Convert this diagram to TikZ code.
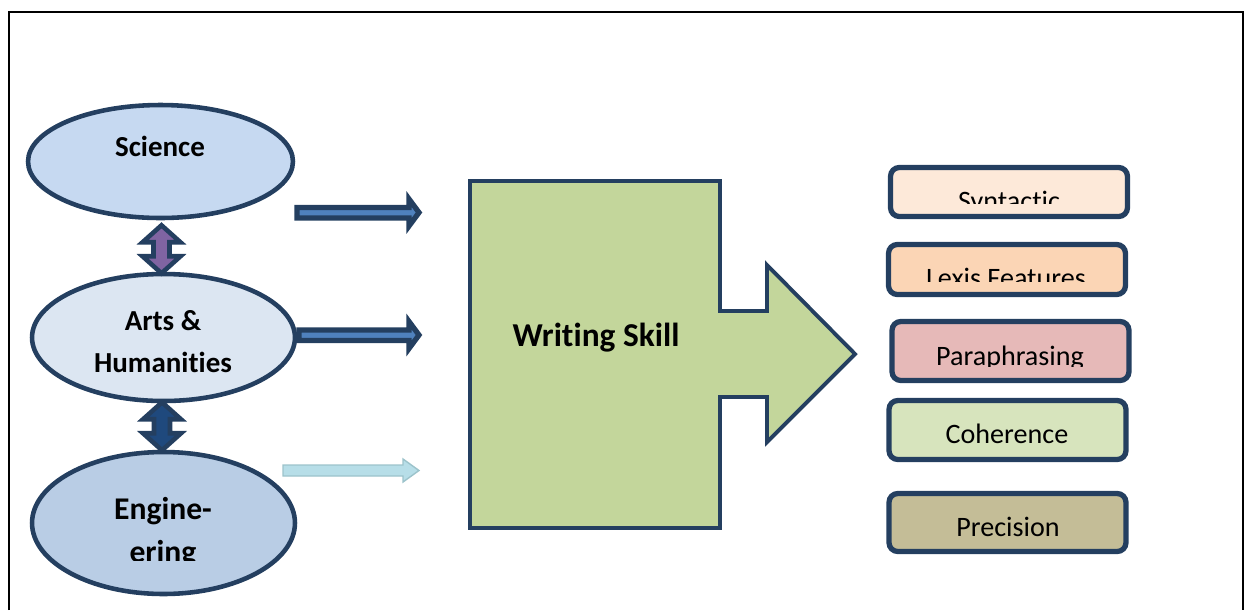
\documentclass[tikz,border=0pt]{standalone}
\usepackage{fontspec}
\setmainfont{Carlito}[Ligatures=NoCommon]
\usetikzlibrary{shapes.geometric}

\definecolor{darkline}{HTML}{243F60}
\definecolor{sciblue}{HTML}{C6D9F1}
\definecolor{artsblue}{HTML}{DCE6F2}
\definecolor{engblue}{HTML}{B9CDE5}
\definecolor{arrowblue}{HTML}{4F81BD}
\definecolor{paleteal}{HTML}{B7DEE8}
\definecolor{palerim}{HTML}{9CC3CB}
\definecolor{purplearr}{HTML}{8064A2}
\definecolor{navyarr}{HTML}{1F497D}
\definecolor{skillgreen}{HTML}{C3D69B}
\definecolor{synfill}{HTML}{FDE9D9}
\definecolor{lexfill}{HTML}{FBD5B5}
\definecolor{parfill}{HTML}{E6B9B8}
\definecolor{cohfill}{HTML}{D7E4BD}
\definecolor{prefill}{HTML}{C4BD97}

\tikzset{
	field/.style={ellipse, draw=darkline, line width=2.6pt, inner sep=0pt},
	fieldtext/.style={font=\bfseries\fontsize{16.5}{20}\selectfont, align=center, inner sep=0pt},
	feature/.style={draw=darkline, line width=3pt, rounded corners=5pt, inner sep=0pt, minimum width=4.74cm},
	featuretext/.style={font=\fontsize{16}{19}\selectfont, anchor=base, inner sep=0pt},
	bararrow/.style={draw=darkline, fill=arrowblue, line width=3pt, line join=miter},
	dblarrow/.style={draw=darkline, line width=2.6pt, line join=miter},
}

\begin{document}
\begin{tikzpicture}[x=0.02cm, y=-0.02cm]
	%%%%% START %%%%%
	\useasboundingbox (0,0) rectangle (1245,610);
	
	% frame
	\draw[line width=1pt] (9,610) -- (9,12) -- (1243,12) -- (1243,610);
	
	% fields
	\node[field, fill=sciblue, minimum width=5.3cm, minimum height=2.26cm] (sci) at (160.5,161.5) {};
	\node[fieldtext] (scitxt) at (160,146) {Science};
	
	\node[field, fill=artsblue, minimum width=5.26cm, minimum height=2.54cm] (arts) at (163.5,337.5) {};
	\node[fieldtext] (artstxt) at (163,342) {Arts \&\\[4pt]Humanities};
	
	\node[field, fill=engblue, minimum width=5.26cm, minimum height=2.84cm] (eng) at (163.5,523) {};
	\begin{scope}
		\clip (40,470) rectangle (290,560);
		\node[fieldtext, font=\bfseries\fontsize{18}{22}\selectfont] (engtxt) at (163,533) {Engine-\\[2.5pt]ering};
	\end{scope}
	
	% links between fields
	\draw[dblarrow, fill=purplearr, shift={(sci.south)}]
		(1,5) -- (20,22) -- (9,22) -- (9,36) -- (20,36) -- (1,53)
		-- (-18,36) -- (-7,36) -- (-7,22) -- (-18,22) -- cycle;
	\draw[dblarrow, fill=navyarr, shift={(arts.south)}]
		(-1.5,-1) -- (17.5,16) -- (6.5,16) -- (6.5,30) -- (17.5,30) -- (-1.5,47)
		-- (-20.5,30) -- (-9.5,30) -- (-9.5,16) -- (-20.5,16) -- cycle;
	
	% arrows into the skill
	\draw[bararrow] (297,207.5) -- (409,207.5) -- (409,199) -- (419,212.5) -- (409,226) -- (409,218) -- (297,218) -- cycle;
	\draw[bararrow] (299,330) -- (409,330) -- (409,321.5) -- (419,335) -- (409,348.5) -- (409,340.5) -- (299,340.5) -- cycle;
	\draw[draw=palerim, fill=paleteal, line width=0.8pt] (283,465) -- (403,465) -- (403,459) -- (419,470.5) -- (403,482) -- (403,476) -- (283,476) -- cycle;
	
	% writing skill
	\draw[draw=darkline, fill=skillgreen, line width=2.2pt, line join=miter]
		(470,181) -- (720,181) -- (720,311) -- (767,311) -- (767,265) -- (855,354)
		-- (767,442) -- (767,397) -- (720,397) -- (720,528) -- (470,528) -- cycle;
	\node[font=\bfseries\fontsize{19}{23}\selectfont, inner sep=0pt] (skill) at (596,338) {Writing Skill};
	
	% features
	\node[feature, fill=synfill, minimum height=0.98cm] (syn) at (1009,192) {};
	\node[feature, fill=lexfill, minimum height=1.0cm] (lex) at (1007,269.5) {};
	\node[feature, fill=parfill, minimum height=1.18cm] (par) at (1010.5,351) {};
	\node[feature, fill=cohfill, minimum height=1.18cm] (coh) at (1007.5,430) {};
	\node[feature, fill=prefill, minimum height=1.16cm] (pre) at (1007.5,522.5) {};
	
	\begin{scope}
		\clip (900,170) rectangle (1120,203);
		\node[featuretext] (syntxt) at (1009,210) {Syntactic};
	\end{scope}
	\begin{scope}
		\clip (900,250) rectangle (1120,281);
		\node[featuretext] (lextxt) at (1006,287) {Lexis Features};
	\end{scope}
	\begin{scope}
		\clip (900,330) rectangle (1120,366);
		\node[featuretext] (partxt) at (1010,365) {Paraphrasing};
	\end{scope}
	\node[featuretext] (cohtxt) at (1007,443) {Coherence};
	\node[featuretext] (pretxt) at (1008,536) {Precision};
	
	%%%%% END %%%%%
\end{tikzpicture}
\end{document}
